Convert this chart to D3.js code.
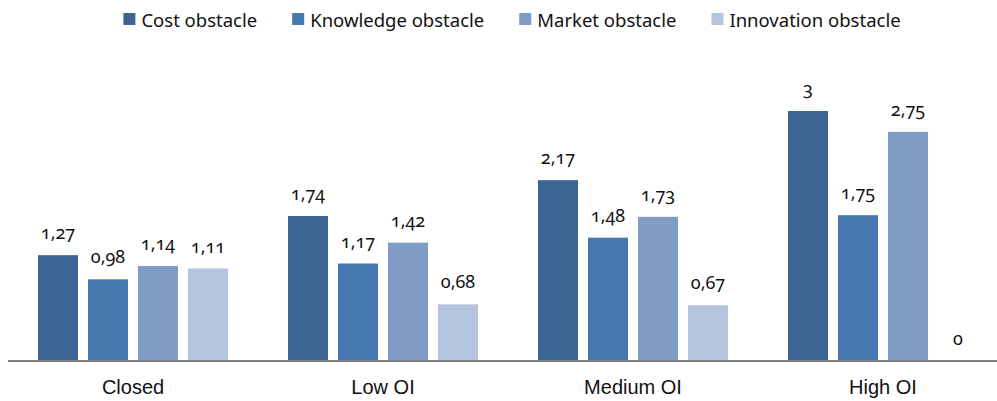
<!DOCTYPE html>
<html>
<head>
<meta charset="utf-8">
<script src="https://cdn.jsdelivr.net/npm/d3@7"></script>
<style>
  body { margin: 0; background: #fff; }
  svg { display: block; font-family: "Noto Sans", "Open Sans", sans-serif; font-feature-settings: "onum"; }
</style>
</head>
<body>
<svg width="997" height="401"></svg>
<script>
const categories = ['Closed', 'Low OI', 'Medium OI', 'High OI'];
const series = ['Cost obstacle', 'Knowledge obstacle', 'Market obstacle', 'Innovation obstacle'];
const cost = [1.27, 1.74, 2.17, 3];
const knowledge = [0.98, 1.17, 1.48, 1.75];
const market = [1.14, 1.42, 1.73, 2.75];
const innovation = [1.11, 0.68, 0.67, 0];
const colors = ['#3d6594', '#4777af', '#7f9cc7', '#b4c3de'];

const values = [cost, knowledge, market, innovation];
const svg = d3.select('svg');
const base = 361;

const x0 = d3.scaleBand().domain(categories).range([8, 1008]).paddingInner(0).paddingOuter(0);
const x1 = d3.scaleBand().domain(series).range([30, 220]).paddingInner(0.2).paddingOuter(0);
const y = d3.scaleLinear().domain([0, 3]).range([base, 111]);

const rows = categories.map((c, i) => series.map((s, j) => ({ cat: c, s: s, v: values[j][i], color: colors[j] })));

const groups = svg.selectAll('g.grp')
    .data(rows)
    .join('g')
    .attr('class', 'grp')
    .attr('transform', (d, i) => `translate(${x0(categories[i])},0)`);

groups.selectAll('rect')
    .data(d => d)
    .join('rect')
    .attr('x', d => x1(d.s))
    .attr('width', x1.bandwidth())
    .attr('y', d => y(d.v))
    .attr('height', d => base - y(d.v))
    .attr('fill', d => d.color);

groups.selectAll('text.val')
    .data(d => d)
    .join('text')
    .attr('class', 'val')
    .attr('x', d => x1(d.s) + x1.bandwidth() / 2)
    .attr('y', d => y(d.v) - 16)
    .attr('text-anchor', 'middle')
    .attr('font-size', 18)
    .attr('fill', '#111')
    .text(d => String(d.v).replace('.', ','));

// axis
const axis = svg.append('g')
    .attr('transform', `translate(0,${base})`)
    .call(d3.axisBottom(x0).tickSize(0).tickPadding(0));
axis.select('.domain').attr('stroke', '#808080').attr('stroke-width', 2).attr('d', 'M8,0H997');
axis.selectAll('text').attr('dy', null).attr('y', 33).attr('font-size', 20).attr('fill', '#111').attr('font-family', null);

// legend
const legend = svg.append('g');
let lx = 0;
series.forEach((s, j) => {
  const g = legend.append('g').attr('transform', `translate(${lx},0)`);
  g.append('rect').attr('x', 0).attr('y', 13).attr('width', 12).attr('height', 12).attr('fill', colors[j]);
  const t = g.append('text').attr('x', 18).attr('y', 27).attr('font-size', 18.5).attr('fill', '#111').text(s);
  lx += 18 + t.node().getComputedTextLength() + 35;
});
const lw = lx - 35;
legend.attr('transform', `translate(${512 - lw / 2},0)`);
</script>
</body>
</html>
